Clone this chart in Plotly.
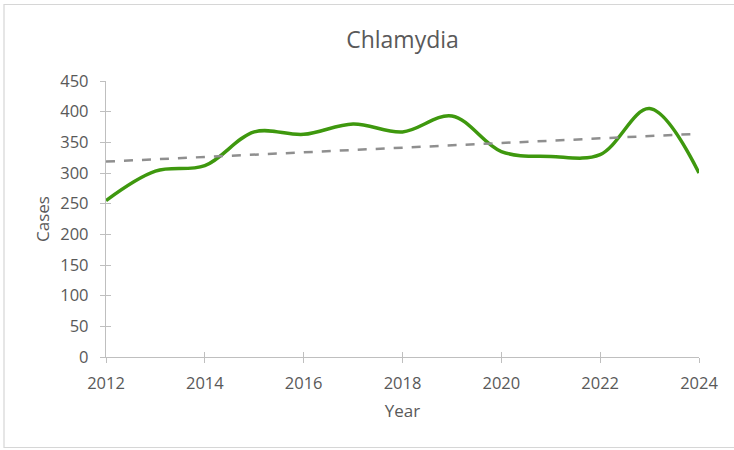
import numpy as np
import plotly.graph_objects as go

# Annual chlamydia case counts
years = [2012, 2013, 2014, 2015, 2016, 2017, 2018, 2019, 2020, 2021, 2022, 2023, 2024]
cases = [255, 303, 312, 367, 363, 380, 367, 393, 335, 327, 330, 405, 300]

x_ticks = [2012, 2014, 2016, 2018, 2020, 2022, 2024]
y_ticks = [0, 50, 100, 150, 200, 250, 300, 350, 400, 450]

# Linear trend fitted to the yearly counts
slope, intercept = np.polyfit(years, cases, 1)
trend = [slope * y + intercept for y in years]

TEXT = "#595959"
AXIS = "#bfbfbf"
FONT = "Open Sans"

fig = go.Figure()
fig.add_trace(go.Scatter(
    x=years, y=cases, mode="lines",
    line=dict(color="#3e980e", width=3.5, shape="spline", smoothing=1.0),
    hoverinfo="x+y", showlegend=False,
))
fig.add_trace(go.Scatter(
    x=years, y=trend, mode="lines", xaxis="x2", yaxis="y2",
    line=dict(color="#8f8f8f", width=2.5, dash="dash"),
    hoverinfo="skip", showlegend=False,
))

axis_common = dict(showgrid=False, zeroline=False, showline=True,
                   linecolor=AXIS, linewidth=1.3, tickcolor=AXIS,
                   tickwidth=1.3, ticklen=5)

fig.update_layout(
    width=734, height=450,
    margin=dict(l=106, r=35, t=81, b=93),
    paper_bgcolor="white", plot_bgcolor="white",
    font=dict(family=FONT, color=TEXT, size=15),
    title=dict(text="Chlamydia", x=0.5, xref="paper", xanchor="center",
               y=1 - 40 / 450, yanchor="middle",
               font=dict(family=FONT, size=23, color=TEXT)),
    xaxis=dict(range=[2012, 2024], tickvals=x_ticks, ticks="outside",
               tickfont=dict(size=16.5, color=TEXT), ticklabelstandoff=6,
               title=dict(text="Year", font=dict(size=17, color=TEXT), standoff=12),
               **axis_common),
    yaxis=dict(range=[0, 450], tickvals=y_ticks, ticks="outside",
               tickfont=dict(size=16.5, color=TEXT), ticklabelstandoff=8,
               title=dict(text="Cases", font=dict(size=17, color=TEXT), standoff=6),
               **axis_common),
    xaxis2=dict(overlaying="x", matches="x", ticks="inside", tickvals=x_ticks,
                showticklabels=False, anchor="y2", **axis_common),
    yaxis2=dict(overlaying="y", matches="y", ticks="inside", tickvals=y_ticks,
                showticklabels=False, anchor="x2", **axis_common),
    shapes=[dict(type="rect", xref="paper", yref="paper",
                 x0=(4 - 106) / 593, x1=(740 - 106) / 593,
                 y0=(357 - 447.5) / 276, y1=(357 - 4.5) / 276,
                 line=dict(color="#d6d6d6", width=1.2), fillcolor="rgba(0,0,0,0)",
                 layer="below")],
)

fig.write_html("out.html")
